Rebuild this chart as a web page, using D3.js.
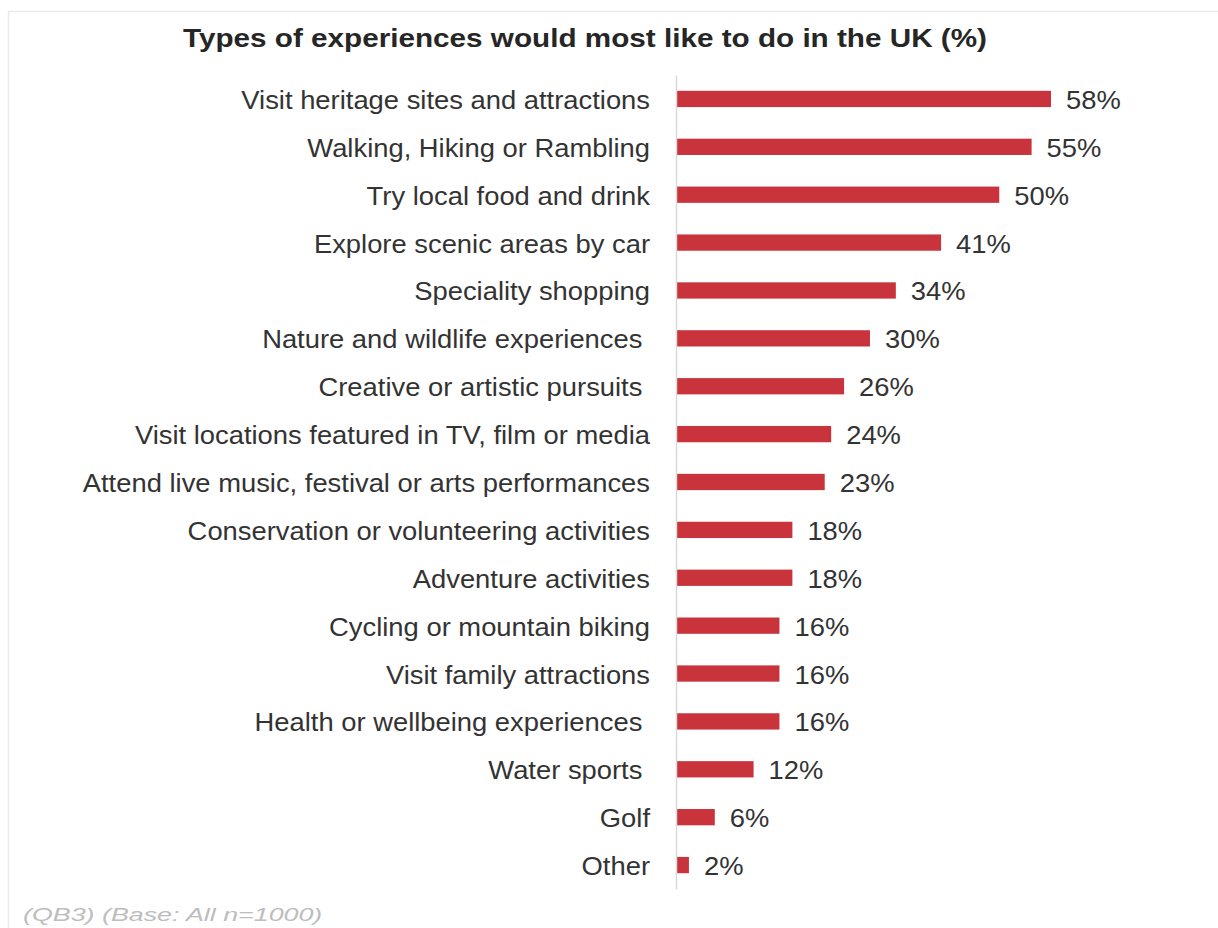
<!DOCTYPE html>
<html>
<head>
<meta charset="utf-8">
<script src="https://cdn.jsdelivr.net/npm/d3@7"></script>
<style>
  html, body { margin: 0; padding: 0; background: #fff; }
  svg { display: block; font-family: "Liberation Sans", Arial, sans-serif; }
</style>
</head>
<body>
<svg id="chart" width="1218" height="928"></svg>
<script>
// Share of respondents choosing each experience type
const categories = [
  "Visit heritage sites and attractions",
  "Walking, Hiking or Rambling",
  "Try local food and drink",
  "Explore scenic areas by car",
  "Speciality shopping",
  "Nature and wildlife experiences ",
  "Creative or artistic pursuits ",
  "Visit locations featured in TV, film or media",
  "Attend live music, festival or arts performances",
  "Conservation or volunteering activities",
  "Adventure activities",
  "Cycling or mountain biking",
  "Visit family attractions",
  "Health or wellbeing experiences ",
  "Water sports ",
  "Golf",
  "Other"
];
const values = [58, 55, 50, 41, 34, 30, 26, 24, 23, 18, 18, 16, 16, 16, 12, 6, 2];

const title = "Types of experiences would most like to do in the UK (%)";
const footnote = "(QB3) (Base: All n=1000)";

// Text in this panel is set slightly wide
const STRETCH = 1.095;
const FONT = "\"Liberation Sans\", Arial, sans-serif";

const svg = d3.select("#chart");

// Light frame around the panel
svg.append("path")
  .attr("d", "M8.5,928 V11.5 H1218")
  .attr("fill", "none")
  .attr("stroke", "#ebebeb")
  .attr("stroke-width", 1.5);

const x0 = 676;
const x = d3.scaleLinear().domain([0, 58]).range([x0, 1051]);
const y = d3.scaleBand().domain(categories).range([75, 889]).paddingInner(0.66).paddingOuter(0.33);

// Title
svg.append("text")
  .attr("transform", `translate(585,46.5) scale(1.12,1)`)
  .attr("text-anchor", "middle")
  .attr("font-size", 26.5).attr("font-weight", "bold")
  .attr("fill", "#262626")
  .text(title);

// Bars
svg.append("g").selectAll("rect")
  .data(values)
  .join("rect")
  .attr("x", x(0))
  .attr("y", (d, i) => y(categories[i]))
  .attr("width", d => x(d) - x(0))
  .attr("height", y.bandwidth())
  .attr("fill", "#c9333c");

// Category axis
const axis = svg.append("g")
  .attr("transform", `translate(${x0},0)`)
  .call(d3.axisLeft(y).tickSize(0).tickPadding(26));
axis.select(".domain").attr("stroke", "#d9d9d9").attr("stroke-width", 1.5);
axis.selectAll(".tick text")
  .attr("x", -26 / STRETCH)
  .attr("transform", `scale(${STRETCH},1)`)
  .attr("font-size", 25)
  .attr("fill", "#333")
  .attr("font-family", FONT)
  .style("white-space", "pre")
  .attr("dy", "0.4em");

// Value labels
svg.append("g").selectAll("text")
  .data(values)
  .join("text")
  .attr("transform", (d, i) =>
    `translate(${x(d) + 15},${y(categories[i]) + y.bandwidth() / 2}) scale(${STRETCH},1)`)
  .attr("dy", "0.4em")
  .attr("font-size", 25)
  .attr("fill", "#333")
  .text(d => d + "%");

// Footnote
svg.append("text")
  .attr("transform", "translate(23,921) scale(1.45,1)")
  .attr("font-size", 18.5)
  .attr("font-style", "italic")
  .attr("fill", "#bdbdbd")
  .text(footnote);
</script>
</body>
</html>
